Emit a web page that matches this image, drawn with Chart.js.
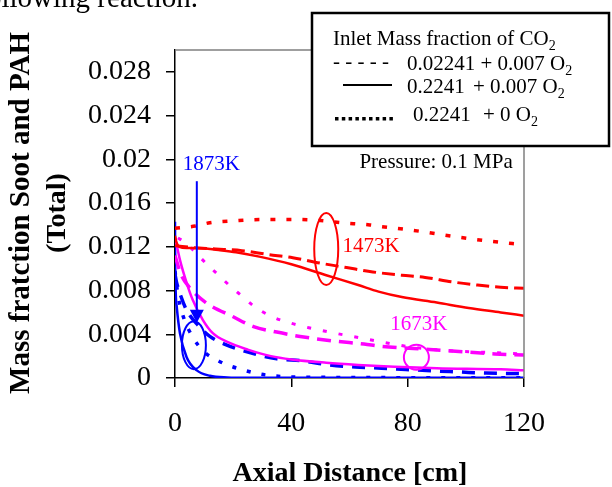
<!DOCTYPE html>
<html>
<head>
<meta charset="utf-8">
<script src="https://cdn.jsdelivr.net/npm/chart.js@4.4.1/dist/chart.umd.min.js"></script>
<style>
  html, body { margin: 0; padding: 0; background: #fff; overflow: hidden; }
  #wrap { position: relative; width: 612px; height: 487px; overflow: hidden; }
  #cut { position: absolute; right: 414px; top: -17px; white-space: nowrap;
         font: 29px/29px 'Liberation Serif', 'Times New Roman', serif; color: #000; z-index: 2; }
  canvas { position: absolute; left: 0; top: 0; }
</style>
</head>
<body>
<div id="wrap">
  <div id="cut">following reaction.</div>
  <canvas id="c" width="612" height="487"></canvas>
</div>
<script>
// axis ticks
const xTickValues = [0, 40, 80, 120];
const yTickValues = [0, 0.004, 0.008, 0.012, 0.016, 0.02, 0.024, 0.028];
const yTickLabels = ['0', '0.004', '0.008', '0.012', '0.016', '0.02', '0.024', '0.028'];

// 1473K
const redDotX   = [0, 2.4, 7, 12, 22, 30, 41, 50, 57, 67, 71, 82, 101, 116, 120];
const redDotY   = [0.0137, 0.01376, 0.0139, 0.0142, 0.0144, 0.0145, 0.0145, 0.0144, 0.0142, 0.0140, 0.01385, 0.0135, 0.01275, 0.0123, 0.0122];
const redSolidX = [0, 0.5, 1.5, 4, 8, 15, 21, 29, 40, 52, 63, 70, 78, 90, 101, 112, 120];
const redSolidY = [0.0130, 0.0124, 0.0120, 0.0119, 0.0119, 0.0117, 0.0115, 0.0111, 0.0104, 0.0094, 0.0085, 0.0079, 0.0074, 0.0069, 0.0064, 0.0060, 0.0057];
const redDashX  = [0, 7.5, 14, 23, 32, 40.5, 50, 59, 68, 78, 86, 95, 104, 112, 120];
const redDashY  = [0.0121, 0.0119, 0.0118, 0.01165, 0.0113, 0.0110, 0.0105, 0.0101, 0.0097, 0.0094, 0.0092, 0.0088, 0.0085, 0.0083, 0.0082];

// 1673K
const magDotX   = [1, 3.4, 11, 15, 19, 23, 27, 32.6, 40, 46, 55, 67, 75, 82, 94, 111, 120];
const magDotY   = [0.0128, 0.0124, 0.0104, 0.0094, 0.0084, 0.0075, 0.0066, 0.0057, 0.0050, 0.0046, 0.0041, 0.0035, 0.0031, 0.0028, 0.0025, 0.0023, 0.0022];
const magSolidX = [0, 1.7, 4, 6, 9.6, 13, 18, 25, 33, 40, 52, 63, 70, 90, 112, 120];
const magSolidY = [0.0129, 0.0108, 0.0087, 0.0072, 0.0053, 0.0041, 0.0033, 0.0026, 0.0020, 0.0017, 0.0014, 0.0012, 0.0011, 0.0009, 0.0008, 0.0007];
const magDashX  = [0, 2, 4.9, 10.6, 20, 27, 35, 43, 54, 65, 71, 82, 94, 110, 120];
const magDashY  = [0.0112, 0.0095, 0.0083, 0.0069, 0.0056, 0.0047, 0.0042, 0.0038, 0.0034, 0.0031, 0.0029, 0.0027, 0.0025, 0.0022, 0.0021];

// 1873K
const bluDotX   = [0, 1, 3, 6.2, 10, 14.7, 19, 24.7, 29, 34, 39, 44, 60, 80, 100, 120];
const bluDotY   = [0.0098, 0.0076, 0.0055, 0.0037, 0.0024, 0.0016, 0.0011, 0.00064, 0.00037, 0.0002, 0.0001, 0.00008, 0.00005, 0.00003, 0.00002, 0.00002];
const bluSolidX = [0, 0.1, 0.6, 1.7, 4, 7.5, 12, 18, 25, 40, 80, 120];
const bluSolidY = [0.0143, 0.0096, 0.0065, 0.0041, 0.0019, 0.0007, 0.0002, 0.00005, 0.00002, 0.00002, 0.00002, 0.00002];
const bluDashX  = [0, 0.5, 2, 4, 8, 12, 17, 26, 35, 44, 53, 62, 71, 88, 98, 107, 120];
const bluDashY  = [0.0095, 0.0088, 0.0075, 0.0062, 0.0048, 0.0038, 0.0031, 0.0023, 0.00175, 0.00156, 0.0012, 0.0010, 0.0009, 0.00066, 0.00055, 0.00045, 0.0004];

const RED = '#FF0000', MAG = '#FF00FF', BLUE = '#0000FF';
const SERIF = "'Liberation Serif', 'Times New Roman', serif";

function series(xs, ys, color, dash, width) {
  return {
    data: xs.map((x, i) => ({ x, y: ys[i] })),
    borderColor: color,
    borderDash: dash,
    borderWidth: width,
    pointRadius: 0,
    fill: false,
    cubicInterpolationMode: 'monotone'
  };
}

// draw text with subscripted "2" at the end
function subText(ctx, txt, sub, x, y, size) {
  ctx.font = size + 'px ' + SERIF;
  ctx.fillText(txt, x, y);
  const w = ctx.measureText(txt).width;
  ctx.font = Math.round(size * 0.65) + 'px ' + SERIF;
  ctx.fillText(sub, x + w, y + size * 0.22);
}

function ellipse(ctx, cx, cy, rx, ry, color) {
  ctx.strokeStyle = color;
  ctx.lineWidth = 2;
  ctx.beginPath();
  ctx.ellipse(cx, cy, rx, ry, 0, 0, Math.PI * 2);
  ctx.stroke();
}

const overlay = {
  id: 'overlay',
  afterDraw(chart) {
    const { ctx, chartArea: a, scales: { x, y } } = chart;
    ctx.save();

    // gray frame top / right
    ctx.strokeStyle = '#808080';
    ctx.lineWidth = 1.5;
    ctx.beginPath();
    ctx.moveTo(a.left, a.top);
    ctx.lineTo(a.right, a.top);
    ctx.lineTo(a.right, a.bottom);
    ctx.stroke();

    // axis titles
    ctx.fillStyle = '#000';
    ctx.font = 'bold 28px ' + SERIF;
    ctx.textAlign = 'center';
    ctx.textBaseline = 'middle';
    ctx.fillText('Axial Distance [cm]', 350, 474);
    ctx.save();
    ctx.translate(22, 213);
    ctx.rotate(-Math.PI / 2);
    ctx.font = 'bold 29px ' + SERIF;
    ctx.fillText('Mass fratction Soot and PAH', 0, 0);
    ctx.font = 'bold 28px ' + SERIF;
    ctx.fillText('(Total)', 0, 36);
    ctx.restore();

    // annotations
    ctx.textAlign = 'left';
    ctx.textBaseline = 'middle';
    ctx.font = '21px ' + SERIF;
    ctx.fillStyle = '#000';
    ctx.fillText('Pressure: 0.1 MPa', x.getPixelForValue(63.4), y.getPixelForValue(0.0197));
    ctx.fillStyle = BLUE;
    ctx.fillText('1873K', x.getPixelForValue(2.7), y.getPixelForValue(0.01955));
    ctx.fillStyle = RED;
    ctx.fillText('1473K', x.getPixelForValue(57.6), y.getPixelForValue(0.0120));
    ctx.fillStyle = MAG;
    ctx.fillText('1673K', x.getPixelForValue(74), y.getPixelForValue(0.00486));

    ellipse(ctx, x.getPixelForValue(52), y.getPixelForValue(0.0118), 12, 36, RED);
    ellipse(ctx, x.getPixelForValue(6.5), y.getPixelForValue(0.003), 12, 24, BLUE);
    ellipse(ctx, x.getPixelForValue(83), y.getPixelForValue(0.0019), 12.5, 12.5, MAG);

    // arrow to 1873K group
    const ax = x.getPixelForValue(7.5);
    const aTop = y.getPixelForValue(0.018), aTip = y.getPixelForValue(0.00505);
    ctx.strokeStyle = BLUE;
    ctx.fillStyle = BLUE;
    ctx.lineWidth = 2;
    ctx.beginPath();
    ctx.moveTo(ax, aTop);
    ctx.lineTo(ax, aTip - 10);
    ctx.stroke();
    ctx.beginPath();
    ctx.moveTo(ax - 7, aTip - 13);
    ctx.lineTo(ax + 7, aTip - 13);
    ctx.lineTo(ax, aTip);
    ctx.closePath();
    ctx.fill();

    // legend box
    ctx.fillStyle = '#fff';
    ctx.fillRect(312, 13, 297, 133);
    ctx.strokeStyle = '#000';
    ctx.lineWidth = 2.5;
    ctx.strokeRect(312, 13, 297, 133);

    ctx.fillStyle = '#000';
    ctx.textBaseline = 'alphabetic';
    subText(ctx, 'Inlet Mass fraction of CO', '2', 333, 45, 21);
    ctx.font = '21px ' + SERIF;
    ctx.fillText('- - - - -', 333, 68);
    subText(ctx, '0.02241 + 0.007 O', '2', 407, 70, 21);
    ctx.lineWidth = 2;
    ctx.beginPath();
    ctx.moveTo(343, 85);
    ctx.lineTo(392, 85);
    ctx.stroke();
    ctx.font = '21px ' + SERIF;
    ctx.fillText('0.2241', 407, 93);
    subText(ctx, '+ 0.007 O', '2', 473, 93, 21);
    for (let i = 0; i < 9; i++) {
      ctx.fillRect(335 + i * 6.8, 117, 3.5, 3.5);
    }
    ctx.font = '21px ' + SERIF;
    ctx.fillText('0.2241', 413, 121);
    subText(ctx, '+ 0 O', '2', 483, 121, 21);

    ctx.restore();
  }
};

new Chart(document.getElementById('c'), {
  type: 'line',
  data: {
    datasets: [
      series(redDotX, redDotY, RED, [5, 11], 3.5),
      series(redDashX, redDashY, RED, [13, 6], 3),
      series(redSolidX, redSolidY, RED, [], 2.5),
      series(magDotX, magDotY, MAG, [4, 12], 3),
      series(magDashX, magDashY, MAG, [14, 8], 3.5),
      series(magSolidX, magSolidY, MAG, [], 2.5),
      series(bluDotX, bluDotY, BLUE, [4, 11], 3.5),
      series(bluDashX, bluDashY, BLUE, [13, 9], 3.5),
      series(bluSolidX, bluSolidY, BLUE, [], 2.5)
    ]
  },
  options: {
    responsive: false,
    devicePixelRatio: 1,
    animation: false,
    layout: { padding: { top: 50, right: 88, left: 0, bottom: 0 } },
    plugins: { legend: { display: false }, tooltip: { enabled: false } },
    scales: {
      x: {
        type: 'linear', min: 0, max: 120,
        afterBuildTicks: s => { s.ticks = xTickValues.map(v => ({ value: v })); },
        afterFit: s => { s.height = 109; },
        ticks: { font: { family: SERIF, size: 28 }, color: '#000', padding: 20, maxRotation: 0 },
        grid: { drawOnChartArea: false, drawTicks: true, tickLength: 9, color: '#000', lineWidth: 1.5 },
        border: { color: '#000', width: 1.5 }
      },
      y: {
        type: 'linear', min: 0, max: 0.03,
        afterBuildTicks: s => { s.ticks = yTickValues.map(v => ({ value: v })); },
        afterFit: s => { s.width = 175; },
        ticks: {
          callback: (v, i) => yTickLabels[i],
          font: { family: SERIF, size: 28 }, color: '#000', padding: 15
        },
        grid: { drawOnChartArea: false, drawTicks: true, tickLength: 9, color: '#000', lineWidth: 1.5 },
        border: { color: '#000', width: 1.5 }
      }
    }
  },
  plugins: [overlay]
});
</script>
</body>
</html>
